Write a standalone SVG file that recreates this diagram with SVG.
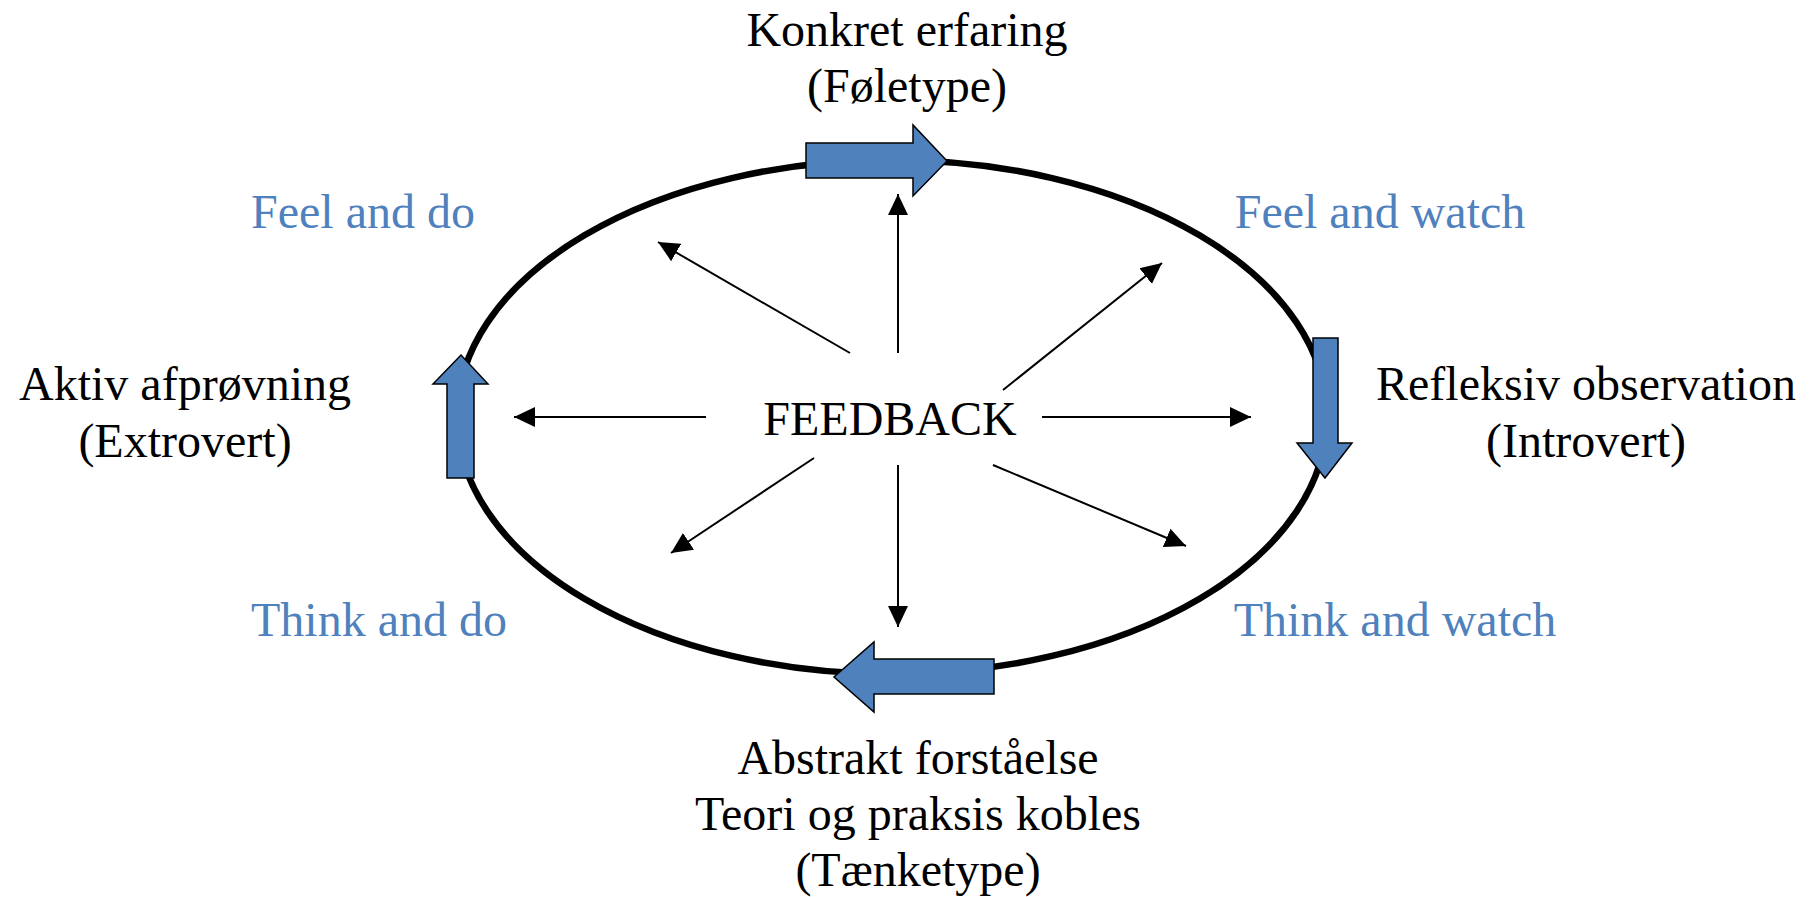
<svg xmlns="http://www.w3.org/2000/svg" width="1816" height="897" viewBox="0 0 1816 897">
<defs>
<style>
.t{font-family:"Liberation Serif","Times New Roman",serif;font-size:48px;fill:#000;text-anchor:middle}
.b{fill:#4F81BD}
.blk{fill:#4F81BD;stroke:#000;stroke-width:1.5;stroke-linejoin:miter}
.ln{stroke:#000;stroke-width:2;fill:none;marker-end:url(#ah)}
</style>
<marker id="ah" markerUnits="userSpaceOnUse" markerWidth="22" markerHeight="22" refX="21" refY="10" orient="auto" viewBox="0 0 22 20">
<path d="M0,0 L21,10 L0,20 z" fill="#000"/>
</marker>
</defs>
<rect width="1816" height="897" fill="#fff"/>
<g id="cycle">
<ellipse cx="892" cy="417" rx="435" ry="257" fill="none" stroke="#000" stroke-width="6.5"/>
</g>
<g id="connectors">
<line class="ln" x1="898" y1="353" x2="898" y2="194"/>
<line class="ln" x1="850" y1="353" x2="658" y2="242"/>
<line class="ln" x1="1003" y1="390" x2="1162" y2="263"/>
<line class="ln" x1="706" y1="417" x2="514" y2="417"/>
<line class="ln" x1="1042" y1="417" x2="1251" y2="417"/>
<line class="ln" x1="814" y1="458" x2="671" y2="553"/>
<line class="ln" x1="898" y1="465" x2="898" y2="627"/>
<line class="ln" x1="993" y1="465" x2="1186" y2="546"/>
</g>
<g id="arrow-top"><polygon class="blk" points="806,143 913,143 913,125 947,161 913,196 913,178 806,178"/></g>
<g id="arrow-right"><polygon class="blk" points="1313,338 1338,338 1338,443 1352,443 1325,478 1297,443 1313,443"/></g>
<g id="arrow-bottom"><polygon class="blk" points="994,659 874,659 874,642 834,677 874,712 874,694 994,694"/></g>
<g id="arrow-left"><polygon class="blk" points="447,478 447,384 433,384 461,355 488,384 474,384 474,478"/></g>
<g id="node-konkret"><text class="t" x="907" y="46">Konkret erfaring</text><text class="t" x="907" y="102">(Føletype)</text></g>
<g id="node-refleksiv"><text class="t" x="1586" y="400">Refleksiv observation</text><text class="t" x="1586" y="457">(Introvert)</text></g>
<g id="node-abstrakt"><text class="t" x="918" y="774">Abstrakt forståelse</text><text class="t" x="918" y="830">Teori og praksis kobles</text><text class="t" x="918" y="886">(Tænketype)</text></g>
<g id="node-aktiv"><text class="t" x="185" y="400">Aktiv afprøvning</text><text class="t" x="185" y="457">(Extrovert)</text></g>
<g id="node-feedback"><text class="t" x="890" y="435">FEEDBACK</text></g>
<g id="labels">
<text class="t b" x="363" y="228">Feel and do</text>
<text class="t b" x="1380" y="228">Feel and watch</text>
<text class="t b" x="379" y="636">Think and do</text>
<text class="t b" x="1395" y="636">Think and watch</text>
</g>
</svg>
